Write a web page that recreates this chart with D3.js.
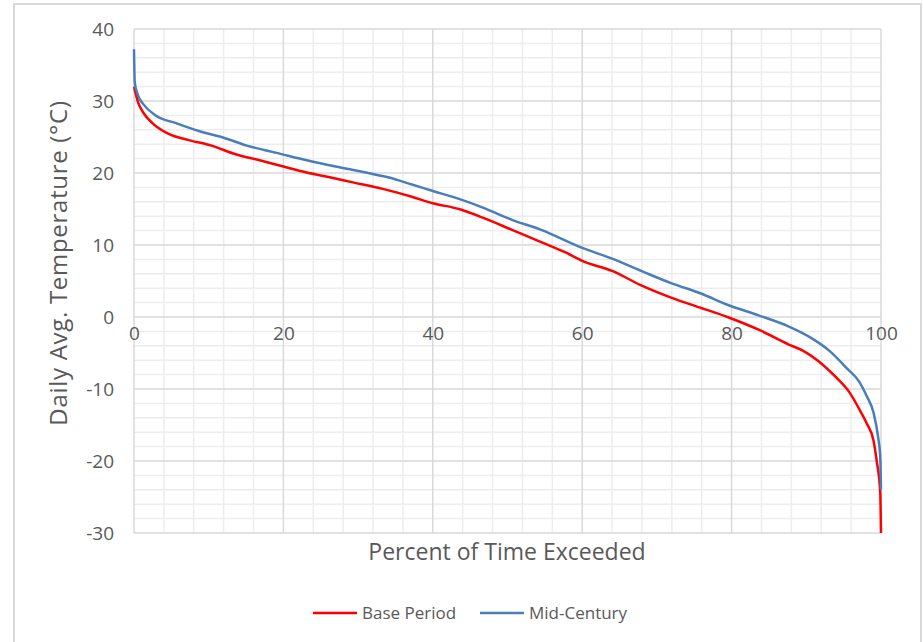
<!DOCTYPE html>
<html>
<head>
<meta charset="utf-8">
<script src="https://cdn.jsdelivr.net/npm/d3@7"></script>
<style>
  body { margin: 0; background: #fff; }
  text { font-family: "Open Sans", "Noto Sans", sans-serif; fill: #595959; }
</style>
</head>
<body>
<svg id="chart"></svg>
<script>
const size = { w: 923, h: 642 };
const margin = { t: 29, r: 42, b: 109, l: 134 };

// percent of time exceeded (x) and daily avg temperature (y)
const basePct = [0, 0.55, 1.3, 2.5, 4.5, 7.2, 10.4, 13.6, 16.7, 20, 23, 26.2, 29.3, 33.3, 37.2, 40, 43.5, 46.7, 50.6, 54.5, 57.7, 60, 64, 67.9, 71.9, 75.8, 79.7, 83.7, 87.6, 89.6, 91.6, 94, 95.8, 97.2, 98.1, 99.0, 99.4, 99.9, 100];
const baseTemp = [32.0, 29.8, 28.3, 26.9, 25.5, 24.6, 23.8, 22.6, 21.8, 20.9, 20.1, 19.4, 18.7, 17.8, 16.7, 15.8, 15.0, 13.8, 12.1, 10.4, 9.0, 7.8, 6.4, 4.4, 2.7, 1.3, -0.1, -1.8, -3.8, -4.7, -6.1, -8.4, -10.5, -13.0, -14.8, -17.2, -19.8, -24.4, -30];

const midPct = [0, 0.1, 0.5, 1.3, 2.9, 5.7, 8.8, 12, 15.1, 19.1, 23, 27, 30.9, 34, 37.2, 40, 43.5, 46.7, 50.6, 54.5, 60, 64, 67.9, 71.9, 75.8, 79.7, 83.7, 87.6, 90.8, 93.1, 95.5, 97.1, 98.1, 99.0, 99.6, 99.9, 100];
const midTemp = [37.2, 32.6, 30.9, 29.5, 28.0, 26.9, 25.8, 24.9, 23.8, 22.8, 21.8, 20.9, 20.1, 19.4, 18.4, 17.5, 16.4, 15.2, 13.5, 12.1, 9.6, 8.1, 6.4, 4.7, 3.3, 1.6, 0.2, -1.3, -3.0, -4.7, -7.2, -9.0, -11.0, -13.3, -16.6, -19.4, -24];

const seriesNames = ['Base Period', 'Mid-Century'];
const seriesColors = ['#ff0000', '#4a7ebb'];
const xTicks = [0, 20, 40, 60, 80, 100];
const yTicks = [40, 30, 20, 10, 0, -10, -20, -30];

const svg = d3.select('svg#chart')
    .attr('width', size.w)
    .attr('height', size.h);

// outer chart frame
svg.append('rect')
    .attr('x', 14).attr('y', 4)
    .attr('width', 907).attr('height', 660)
    .attr('fill', 'none')
    .attr('stroke', '#d9d9d9')
    .attr('stroke-width', 2);

const w = size.w - margin.l - margin.r;
const h = size.h - margin.t - margin.b;

const x = d3.scaleLinear().domain([0, 100]).range([0, w]);
const y = d3.scaleLinear().domain([-30, 40]).range([h, 0]);

const g = svg.append('g')
    .attr('transform', `translate(${margin.l}, ${margin.t})`);

// minor grid
g.append('g')
    .selectAll('line')
    .data(d3.range(-30, 41, 2).filter(v => v % 10 !== 0))
    .join('line')
    .attr('x1', 0).attr('x2', w)
    .attr('y1', d => y(d)).attr('y2', d => y(d))
    .attr('stroke', '#ededed').attr('stroke-width', 1.5);

g.append('g')
    .selectAll('line')
    .data(d3.range(0, 101, 4).filter(v => v % 20 !== 0))
    .join('line')
    .attr('y1', 0).attr('y2', h)
    .attr('x1', d => x(d)).attr('x2', d => x(d))
    .attr('stroke', '#ededed').attr('stroke-width', 1.5);

// major grid
g.append('g')
    .selectAll('line')
    .data(yTicks)
    .join('line')
    .attr('x1', 0).attr('x2', w)
    .attr('y1', d => y(d)).attr('y2', d => y(d))
    .attr('stroke', '#d9d9d9').attr('stroke-width', 1.5);

g.append('g')
    .selectAll('line')
    .data(xTicks)
    .join('line')
    .attr('y1', 0).attr('y2', h)
    .attr('x1', d => x(d)).attr('x2', d => x(d))
    .attr('stroke', '#d9d9d9').attr('stroke-width', 1.5);

// axes (labels only, Excel style) - plain hyphen for negatives
const fmt = d => String(d);

const yAxis = g.append('g')
    .call(d3.axisLeft(y).tickValues(yTicks).tickFormat(fmt).tickSize(0).tickPadding(20));
yAxis.select('.domain').remove();
yAxis.selectAll('text')
    .style('font-size', '19px')
    .attr('fill', '#595959');

const xAxis = g.append('g')
    .attr('transform', `translate(0, ${y(0)})`)
    .call(d3.axisBottom(x).tickValues(xTicks).tickFormat(fmt).tickSize(0).tickPadding(10));
xAxis.select('.domain').remove();
xAxis.selectAll('text')
    .style('font-size', '19px')
    .attr('fill', '#595959');

// lines
const line = d3.line()
    .x(d => x(d[0]))
    .y(d => y(d[1]))
    .curve(d3.curveMonotoneX);

const series = [
    d3.zip(basePct, baseTemp),
    d3.zip(midPct, midTemp)
];

g.selectAll('path.series')
    .data(series)
    .join('path')
    .classed('series', true)
    .attr('d', line)
    .attr('fill', 'none')
    .attr('stroke', (d, i) => seriesColors[i])
    .attr('stroke-width', 2.5)
    .attr('stroke-linejoin', 'round');

// axis titles
svg.append('text')
    .attr('transform', 'translate(67, 263) rotate(-90)')
    .attr('text-anchor', 'middle')
    .style('font-size', '24px')
    .style('letter-spacing', '0.7px')
    .text('Daily Avg. Temperature (°C)');

svg.append('text')
    .attr('x', 507)
    .attr('y', 560)
    .attr('text-anchor', 'middle')
    .style('font-size', '23px')
    .text('Percent of Time Exceeded');

// legend
const legendX = [313, 480];
const legend = svg.append('g')
    .selectAll('g')
    .data(seriesNames)
    .join('g')
    .attr('transform', (d, i) => `translate(${legendX[i]}, 613)`);

legend.append('line')
    .attr('x1', 0).attr('x2', 44)
    .attr('stroke', (d, i) => seriesColors[i])
    .attr('stroke-width', 2.5);

legend.append('text')
    .attr('x', 49)
    .attr('dy', '0.35em')
    .style('font-size', '17px')
    .text(d => d);
</script>
</body>
</html>
